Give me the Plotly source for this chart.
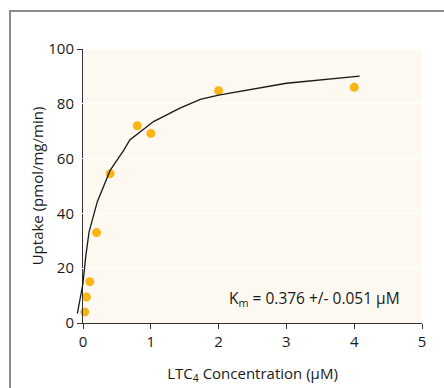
import plotly.graph_objects as go

# Data
conc = [0.025, 0.05, 0.1, 0.2, 0.4, 0.8, 1.0, 2.0, 4.0]
uptake = [4.0, 9.5, 15.1, 33.0, 54.5, 72.0, 69.2, 84.8, 86.0]

fit_x = [-0.083, 0.0, 0.04, 0.09, 0.21, 0.40, 0.6, 0.69, 1.04, 1.43, 1.73, 2.0, 3.0, 4.08]
fit_y = [3.4, 14.5, 24.2, 33.3, 44.2, 55.7, 63.0, 66.8, 73.5, 78.4, 81.6, 83.2, 87.5, 90.1]

x_ticks = [0, 1, 2, 3, 4, 5]
y_ticks = [0, 20, 40, 60, 80, 100]

FONT = "Open Sans"
W, H = 444, 388
L_MAIN, R_EDGE, T_EDGE, B_EDGE = 83, 422, 49, 323
L_WIDE = 73
plot_w = R_EDGE - L_WIDE
main_w = R_EDGE - L_MAIN
units_per_px = 5 / main_w

fig = go.Figure()

fig.add_trace(go.Scatter(
    x=fit_x, y=fit_y, mode="lines", xaxis="x2", yaxis="y",
    line=dict(color="#1a1a1a", width=1.3), showlegend=False, hoverinfo="skip"))

fig.add_trace(go.Scatter(
    x=conc, y=uptake, mode="markers", xaxis="x", yaxis="y",
    marker=dict(color="#fdb515", size=9, line=dict(width=0)),
    showlegend=False, cliponaxis=False))

fig.update_layout(
    width=W, height=H,
    margin=dict(l=L_WIDE, r=W - R_EDGE, t=T_EDGE, b=H - B_EDGE, pad=0, autoexpand=False),
    paper_bgcolor="white",
    plot_bgcolor="rgba(0,0,0,0)",
    font=dict(family=FONT, size=14, color="#1a1a1a"),
    xaxis=dict(
        domain=[(L_MAIN - L_WIDE) / plot_w, 1],
        range=[0, 5], tickvals=x_ticks, ticktext=[str(v) for v in x_ticks],
        showgrid=False, zeroline=False, automargin=False,
        showline=True, linecolor="#333333", linewidth=1,
        ticks="outside", ticklen=5, tickcolor="#333333", tickwidth=1,
        tickfont=dict(size=15, color="#1a1a1a"),
        title=dict(text="LTC<sub>4</sub> Concentration (µM)", standoff=18,
                   font=dict(size=15, color="#1a1a1a")),
        anchor="y",
    ),
    xaxis2=dict(
        domain=[0, 1],
        range=[-(L_MAIN - L_WIDE) * units_per_px, 5],
        visible=False, anchor="y", automargin=False,
    ),
    yaxis=dict(
        range=[0, 100], tickvals=y_ticks, ticktext=[str(v) for v in y_ticks],
        showgrid=True, gridcolor="white", gridwidth=1,
        zeroline=False, automargin=False,
        showline=True, linecolor="#333333", linewidth=1,
        ticks="outside", ticklen=5, tickcolor="#333333", tickwidth=1,
        tickfont=dict(size=15, color="#1a1a1a"),
        title=dict(text="Uptake (pmol/mg/min)", standoff=1,
                   font=dict(size=15, color="#1a1a1a")),
        anchor="x",
    ),
    shapes=[
        dict(type="rect", xref="x domain", yref="y domain", x0=0, x1=1, y0=0, y1=1,
             fillcolor="#fdf8f0", line=dict(width=0), layer="below"),
        dict(type="rect", xref="x domain", yref="y domain",
             x0=(10 - L_MAIN) / main_w, x1=1.3,
             y0=-0.5, y1=(B_EDGE - 11) / (B_EDGE - T_EDGE),
             fillcolor="rgba(0,0,0,0)", line=dict(color="#8c8c8c", width=2), layer="below"),
    ],
    annotations=[
        dict(x=3.41, y=8.8, xref="x", yref="y", showarrow=False,
             text="K<sub>m</sub> = 0.376 +/- 0.051 µM",
             font=dict(size=15.5, color="#1a1a1a"), xanchor="center", yanchor="middle"),
    ],
)

fig.write_html("out.html")
